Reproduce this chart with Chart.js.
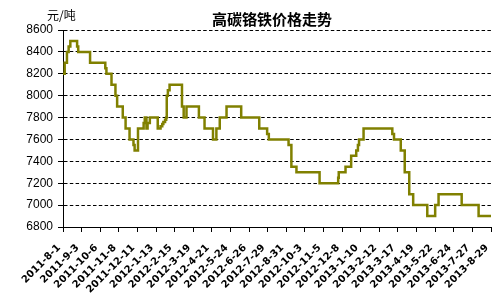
<!DOCTYPE html>
<html>
<head>
<meta charset="utf-8">
<script src="https://cdn.jsdelivr.net/npm/chart.js@4.4.0/dist/chart.umd.min.js"></script>
<style>
html, body { margin: 0; padding: 0; background: #fff; }
#wrap { width: 498px; height: 298px; position: relative; }
</style>
</head>
<body>
<div id="wrap"><canvas id="price"></canvas></div>
<script>
//--------------------------------------------- data
// x labels, one every 33 days starting 2011-8-1
const tickLabels = [
  '2011-8-1', '2011-9-3', '2011-10-6', '2011-11-8', '2011-12-11',
  '2012-1-13', '2012-2-15', '2012-3-19', '2012-4-21', '2012-5-24',
  '2012-6-26', '2012-7-29', '2012-8-31', '2012-10-3', '2012-11-5',
  '2012-12-8', '2013-1-10', '2013-2-12', '2013-3-17', '2013-4-19',
  '2013-5-22', '2013-6-24', '2013-7-27', '2013-8-29'
];
// days after 2011-8-1 where the price changes, and the new price
const changeDays = [
  0, 3, 7, 10, 13, 25, 27, 48, 75, 77,
  86, 93, 96, 106, 111, 118, 125, 127, 133, 143,
  145, 148, 150, 154, 168, 173, 176, 178, 181, 183,
  184, 186, 189, 211, 214, 219, 241, 251, 266, 272,
  278, 290, 316, 348, 362, 365, 400, 405, 414, 455,
  488, 489, 501, 511, 520, 523, 525, 533, 584, 587,
  599, 606, 614, 621, 646, 660, 666, 707, 737, 759
];
const changePrices = [
  8200, 8300, 8400, 8450, 8500, 8450, 8400, 8300, 8250, 8200,
  8100, 8000, 7900, 7800, 7700, 7600, 7550, 7500, 7700, 7750,
  7800, 7700, 7750, 7800, 7700, 7720, 7740, 7760, 7780, 7800,
  8000, 8050, 8100, 7900, 7800, 7900, 7800, 7700, 7600, 7700,
  7800, 7900, 7800, 7700, 7650, 7600, 7550, 7350, 7300, 7200,
  7250, 7300, 7350, 7450, 7500, 7550, 7600, 7700, 7650, 7600,
  7500, 7300, 7100, 7000, 6900, 7000, 7100, 7000, 6900, 6900
];
const yMin = 6800;
const yMax = 8600;
const yStep = 200;
const dayStep = 33;

const points = changeDays.map((d, i) => ({ x: d, y: changePrices[i] }));

//--------------------------------------------- title + unit
const headerPlugin = {
  id: 'header',
  afterDraw(chart) {
    const ctx = chart.ctx;
    ctx.save();
    ctx.fillStyle = '#000';
    ctx.textBaseline = 'middle';
    ctx.textAlign = 'center';
    ctx.font = 'bold 15px "Noto Sans CJK SC"';
    ctx.fillText('高碳铬铁价格走势', 272, 19);
    ctx.textAlign = 'left';
    ctx.font = '12px "Noto Sans CJK SC"';
    ctx.fillText('元/吨', 47, 15);
    ctx.restore();
  }
};

const configPrice = {
  type: 'line',
  data: {
    datasets: [{
      data: points,
      borderColor: '#808000',
      borderWidth: 2.5,
      pointRadius: 0,
      stepped: true,
      fill: false
    }]
  },
  options: {
    responsive: false,
    animation: false,
    layout: { padding: { top: 30, right: 7, left: 0, bottom: 0 } },
    plugins: {
      legend: { display: false },
      title: { display: false },
      tooltip: { enabled: false }
    },
    scales: {
      x: {
        type: 'linear',
        min: 0,
        max: dayStep * (tickLabels.length - 1),
        grid: { drawOnChartArea: false, color: '#000', tickLength: 5 },
        border: { color: '#000', width: 1 },
        ticks: {
          stepSize: dayStep,
          autoSkip: false,
          maxRotation: 45,
          minRotation: 45,
          padding: 10,
          labelOffset: -4,
          color: '#000',
          font: { family: 'DejaVu Sans', size: 10, weight: 'bold' },
          callback: v => tickLabels[Math.round(v / dayStep)]
        },
        afterFit: s => { s.height = 71; s.paddingLeft = 0; s.paddingRight = 0; }
      },
      y: {
        min: yMin,
        max: yMax,
        grid: { color: '#000', tickLength: 5, lineWidth: 1 },
        border: { color: '#000', width: 1, dash: [3.5, 2.3] },
        ticks: {
          stepSize: yStep,
          padding: 5,
          color: '#000',
          font: { family: 'Liberation Sans', size: 12 },
          callback: v => String(v)
        },
        afterFit: s => { s.width = 63; }
      }
    }
  },
  plugins: [headerPlugin]
};

const canvas = document.getElementById('price');
canvas.width = 498;
canvas.height = 298;
var chartPrice = new Chart(canvas, configPrice);
</script>
</body>
</html>
